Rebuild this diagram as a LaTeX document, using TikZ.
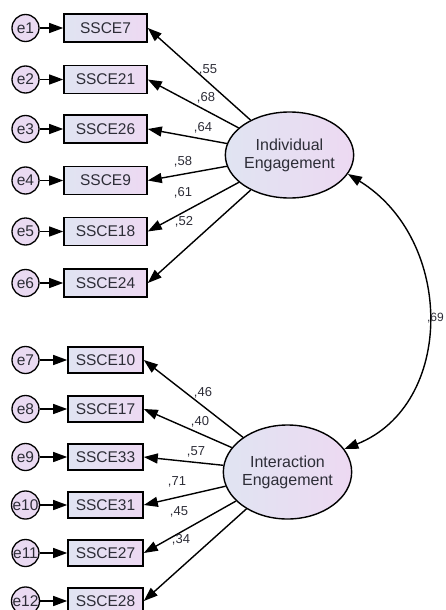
\documentclass[tikz,border=0pt]{standalone}
\usepackage{fontspec}
\setmainfont{Liberation Sans}
\usetikzlibrary{arrows.meta,shapes.geometric}
\definecolor{cooll}{RGB}{224,228,242}
\definecolor{coolr}{RGB}{237,217,242}
\definecolor{errfill}{RGB}{234,218,242}
\definecolor{txt}{RGB}{45,45,55}

\begin{document}
\begin{tikzpicture}[x=1pt, y=-1pt,
        obs/.style={rectangle, draw, line width=1.6pt, left color=cooll, right color=coolr, text=txt, inner sep=0pt, font=\fontsize{15.5}{17}\selectfont},
        err/.style={circle, draw, line width=1.3pt, fill=errfill, text=txt, inner sep=0pt, minimum size=27pt, font=\fontsize{15.5}{17}\selectfont},
        lat/.style={ellipse, draw, line width=1.4pt, left color=cooll, right color=coolr, text=txt, align=center, inner sep=0pt, font=\fontsize{16}{18}\selectfont},
        load/.style={line width=1.4pt, -{Triangle[length=14pt,width=10pt]}},
        coef/.style={text=txt, inner sep=0pt, font=\fontsize{13}{13}\selectfont}]
    \useasboundingbox (0,0) rectangle (445,610);

    \begin{scope}[every node/.append style={minimum width=83pt, minimum height=28pt}]
        \node[obs] (SSCE7)  at (105.5, 28)  {SSCE7};
        \node[obs] (SSCE21) at (105.5, 79.5) {SSCE21};
        \node[obs] (SSCE26) at (105.5, 129) {SSCE26};
        \node[obs] (SSCE9)  at (105.5, 180.5) {SSCE9};
        \node[obs] (SSCE18) at (105.5, 231.5) {SSCE18};
        \node[obs] (SSCE24) at (105.5, 283) {SSCE24};
    \end{scope}
    \begin{scope}[every node/.append style={minimum width=75pt, minimum height=26pt}]
        \node[obs] (SSCE10) at (105.5, 360) {SSCE10};
        \node[obs] (SSCE17) at (105.5, 409) {SSCE17};
        \node[obs] (SSCE33) at (105.5, 457) {SSCE33};
        \node[obs] (SSCE31) at (105.5, 505) {SSCE31};
        \node[obs] (SSCE27) at (105.5, 553) {SSCE27};
        \node[obs] (SSCE28) at (105.5, 601) {SSCE28};
    \end{scope}

    \node[err] (e1)  at (25.5, 28)  {e1};
    \node[err] (e2)  at (25.5, 79.5) {e2};
    \node[err] (e3)  at (25.5, 129) {e3};
    \node[err] (e4)  at (25.5, 180.5) {e4};
    \node[err] (e5)  at (25.5, 231.5) {e5};
    \node[err] (e6)  at (25.5, 283) {e6};
    \node[err] (e7)  at (25.5, 360) {e7};
    \node[err] (e8)  at (25.5, 409) {e8};
    \node[err] (e9)  at (25.5, 457) {e9};
    \node[err] (e10) at (25.5, 505) {e10};
    \node[err] (e11) at (25.5, 553) {e11};
    \node[err] (e12) at (25.5, 601) {e12};

    \node[lat, minimum width=103pt, minimum height=86pt] (Ind) at (289.5, 155) {Individual\\Engagement};
    \node[lat, minimum width=111pt, minimum height=94pt] (Int) at (287.5, 472) {Interaction\\Engagement};

    % residuals
    \draw[load] (e1) -- (SSCE7);
    \draw[load] (e2) -- (SSCE21);
    \draw[load] (e3) -- (SSCE26);
    \draw[load] (e4) -- (SSCE9);
    \draw[load] (e5) -- (SSCE18);
    \draw[load] (e6) -- (SSCE24);
    \draw[load] (e7) -- (SSCE10);
    \draw[load] (e8) -- (SSCE17);
    \draw[load] (e9) -- (SSCE33);
    \draw[load] (e10) -- (SSCE31);
    \draw[load] (e11) -- (SSCE27);
    \draw[load] (e12) -- (SSCE28);

    % loadings
    \draw[load] (Ind) -- (SSCE7.east);
    \draw[load] (Ind) -- (SSCE21.east);
    \draw[load] (Ind) -- (SSCE26.east);
    \draw[load] (Ind) -- (SSCE9.east);
    \draw[load] (Ind) -- (SSCE18.east);
    \draw[load] (Ind) -- (SSCE24.east);

    \draw[load] (Int) -- (SSCE10.east);
    \draw[load] (Int) -- (SSCE17.east);
    \draw[load] (Int) -- (SSCE33.east);
    \draw[load] (Int) -- (SSCE31.east);
    \draw[load] (Int) -- (SSCE27.east);
    \draw[load] (Int) -- (SSCE28.east);

    \node[coef] (c1) at (208, 70)  {,55};
    \node[coef] (c2) at (206, 98)  {,68};
    \node[coef] (c3) at (203, 128) {,64};
    \node[coef] (c4) at (183, 162) {,58};
    \node[coef] (c5) at (183, 193) {,61};
    \node[coef] (c6) at (184, 222) {,52};
    \node[coef] (c7) at (203, 393) {,46};
    \node[coef] (c8) at (200, 422) {,40};
    \node[coef] (c9) at (196, 452) {,57};
    \node[coef] (c10) at (177, 482) {,71};
    \node[coef] (c11) at (179, 512) {,45};
    \node[coef] (c12) at (181, 540) {,34};

    % covariance
    \draw[line width=1.4pt, {Triangle[length=14pt,width=10pt]}-{Triangle[length=14pt,width=10pt]}]
        (Int.22) .. controls (455, 405) and (455, 240) .. (Ind.-18);
    \node[coef, anchor=east, font=\fontsize{12}{12}\selectfont] (r) at (444, 318) {,69};
\end{tikzpicture}
\end{document}
